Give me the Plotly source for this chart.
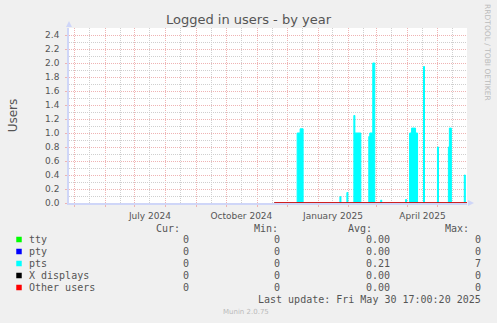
import plotly.graph_objects as go

# ---------------- data ----------------
pts_dates = ["2024-11-18", "2024-12-11", "2024-12-14", "2024-12-17",
             "2025-01-23", "2025-01-24", "2025-01-30", "2025-01-31",
             "2025-02-06", "2025-02-07", "2025-02-13",
             "2025-02-21", "2025-02-22", "2025-02-25", "2025-02-27",
             "2025-03-05", "2025-03-06", "2025-03-30", "2025-03-31",
             "2025-04-03", "2025-04-05", "2025-04-09", "2025-04-11",
             "2025-04-17", "2025-04-18", "2025-05-01", "2025-05-02",
             "2025-05-12", "2025-05-13", "2025-05-15",
             "2025-05-28", "2025-05-29", "2025-05-30 17:00"]
pts_values = [0, 1.0, 1.06, 0,
              0.09, 0, 0.15, 0,
              1.25, 1.0, 0,
              0.95, 1.0, 2.0, 0,
              0.04, 0, 0.05, 0,
              1.0, 1.07, 1.0, 0,
              1.95, 0, 0.8, 0,
              0.8, 1.07, 0,
              0.4, 0, 0]

zero_dates = ["2024-11-18", "2025-05-30 17:00"]
tty_values = [0, 0]
pty_values = [0, 0]
x_values = [0, 0]
other_values = [0, 0]

series_names = ["tty", "pty", "pts", "X displays", "Other users"]
series_colors = ["#00FF00", "#0000FF", "#00FFFF", "#000000", "#FF0000"]
cur_vals = ["0", "0", "0", "0", "0"]
min_vals = ["0", "0", "0", "0", "0"]
avg_vals = ["0.00", "0.00", "0.21", "0.00", "0.00"]
max_vals = ["0", "0", "7", "0", "0"]

x_range = ["2024-04-25 17:00", "2025-05-30 17:00"]
y_range = [0, 2.5]
month_mid_ticks = ["2024-05-16", "2024-06-16", "2024-07-16", "2024-08-16", "2024-09-16",
                   "2024-10-16", "2024-11-16", "2024-12-16", "2025-01-16", "2025-02-16",
                   "2025-03-16", "2025-04-16", "2025-05-16"]
month_mid_labels = ["", "", "July 2024", "", "", "October 2024", "", "",
                    "January 2025", "", "", "April 2025", ""]

# ---------------- layout geometry ----------------
W, H = 497, 323
L, R, T, B = 67, 30, 28, 120
PW, PH = W - L - R, H - T - B
BOTTOM = T + PH


def pxx(x):
    return (x - L) / PW


def pxy(y):
    return (BOTTOM - y) / PH


FONT = "DejaVu Sans"
MONO = "DejaVu Sans Mono"
TXT = "#555555"
MGRID = "#EFB3B3"
GRID = "#CFCFCF"
AXIS = "#CFD6F8"

fig = go.Figure()
fig.add_trace(go.Scatter(x=zero_dates, y=tty_values, mode="lines", line=dict(color=series_colors[0], width=0),
                         fill="tozeroy", fillcolor=series_colors[0], showlegend=False, hoverinfo="skip"))
fig.add_trace(go.Scatter(x=zero_dates, y=pty_values, mode="lines", line=dict(color=series_colors[1], width=0),
                         fill="tozeroy", fillcolor=series_colors[1], showlegend=False, hoverinfo="skip"))
fig.add_trace(go.Scatter(x=pts_dates, y=pts_values, mode="lines", line=dict(color=series_colors[2], width=1, shape="hv"),
                         fill="tozeroy", fillcolor=series_colors[2], showlegend=False))
fig.add_trace(go.Scatter(x=zero_dates, y=x_values, mode="lines", line=dict(color=series_colors[3], width=1),
                         showlegend=False, hoverinfo="skip"))
fig.add_trace(go.Scatter(x=zero_dates, y=other_values, mode="lines", line=dict(color=series_colors[4], width=1.6),
                         showlegend=False, cliponaxis=False))

fig.update_layout(
    width=W, height=H,
    margin=dict(l=L, r=R, t=T, b=B, pad=0),
    paper_bgcolor="#F0F0F0", plot_bgcolor="#FFFFFF",
    font=dict(family=FONT, size=9, color=TXT),
    showlegend=False,
    title=dict(text="Logged in users - by year", x=(248.5) / W, xanchor="center",
               y=1 - 19.5 / H, yanchor="middle", font=dict(family=FONT, size=13, color=TXT)),
)

fig.update_xaxes(
    type="date", range=x_range, fixedrange=True,
    tickmode="array", tickvals=month_mid_ticks, ticktext=month_mid_labels,
    ticks="", tickfont=dict(family=FONT, size=9, color=TXT),
    showgrid=True, gridcolor=GRID, griddash="1px,1px", gridwidth=1,
    minor=dict(tick0="2024-05-01", dtick="M1", showgrid=True, gridcolor=MGRID, griddash="1px,1px",
               gridwidth=1, ticks="outside", ticklen=2, tickcolor=MGRID),
    showline=True, linecolor=AXIS, linewidth=1.5, zeroline=False,
    ticklabelstandoff=3,
)
fig.update_yaxes(
    range=y_range, fixedrange=True,
    tickmode="linear", tick0=0, dtick=0.2, tickformat=".1f",
    ticks="outside", ticklen=2, tickcolor=MGRID,
    tickfont=dict(family=FONT, size=9, color=TXT),
    showgrid=True, gridcolor=MGRID, griddash="1px,1px", gridwidth=1,
    minor=dict(dtick=0.1, showgrid=True, gridcolor=GRID, griddash="1px,1px", gridwidth=1),
    showline=True, linecolor=AXIS, linewidth=1.5, zeroline=False,
    ticklabelstandoff=4,
    title=dict(text="Users", font=dict(family=FONT, size=12, color=TXT), standoff=25),
)

# axis arrows
fig.add_shape(type="path", xref="paper", yref="paper", xsizemode="pixel", ysizemode="pixel",
              xanchor=0, yanchor=1, path="M -3,1 L 3,1 L 0,7 Z",
              fillcolor=AXIS, line=dict(width=0), layer="above")
fig.add_shape(type="path", xref="paper", yref="paper", xsizemode="pixel", ysizemode="pixel",
              xanchor=1, yanchor=0, path="M 1,-3 L 1,3 L 7,0 Z",
              fillcolor=AXIS, line=dict(width=0), layer="above")

ann = []
# right vertical watermark
ann.append(dict(text="RRDTOOL / TOBI OETIKER", x=pxx(488), y=pxy(53), xref="paper", yref="paper",
                textangle=90, showarrow=False, font=dict(family=FONT, size=7.5, color="#BBBBBB"),
                xanchor="center", yanchor="middle"))

# legend header
headers = [("Cur:", 181), ("Min:", 279), ("Avg:", 374), ("Max:", 471)]
for txt, xr in headers:
    ann.append(dict(text=txt, x=pxx(xr), y=pxy(228), xref="paper", yref="paper", showarrow=False,
                    xanchor="right", yanchor="middle", font=dict(family=MONO, size=10, color=TXT)))

row_y = [239.5, 251.5, 263.5, 275.5, 287.5]
cols = [(cur_vals, 190), (min_vals, 281.5), (avg_vals, 391.5), (max_vals, 483)]
for i, name in enumerate(series_names):
    yy = row_y[i]
    fig.add_shape(type="rect", xref="paper", yref="paper",
                  x0=pxx(14), x1=pxx(19.5), y0=pxy(yy + 2.75), y1=pxy(yy - 2.75),
                  fillcolor=series_colors[i], line=dict(width=0))
    ann.append(dict(text=name, x=pxx(25), y=pxy(yy), xref="paper", yref="paper", showarrow=False,
                    xanchor="left", yanchor="middle", font=dict(family=MONO, size=10, color=TXT)))
    for vals, xr in cols:
        ann.append(dict(text=vals[i], x=pxx(xr), y=pxy(yy), xref="paper", yref="paper", showarrow=False,
                        xanchor="right", yanchor="middle", font=dict(family=MONO, size=10, color=TXT)))

ann.append(dict(text="Last update: Fri May 30 17:00:20 2025", x=pxx(483), y=pxy(299.5), xref="paper",
                yref="paper", showarrow=False, xanchor="right", yanchor="middle",
                font=dict(family=MONO, size=10, color=TXT)))
ann.append(dict(text="Munin 2.0.75", x=pxx(245), y=pxy(312), xref="paper", yref="paper", showarrow=False,
                xanchor="center", yanchor="middle", font=dict(family=FONT, size=7, color="#BBBBBB")))

fig.update_layout(annotations=ann)

fig.write_html("out.html")
